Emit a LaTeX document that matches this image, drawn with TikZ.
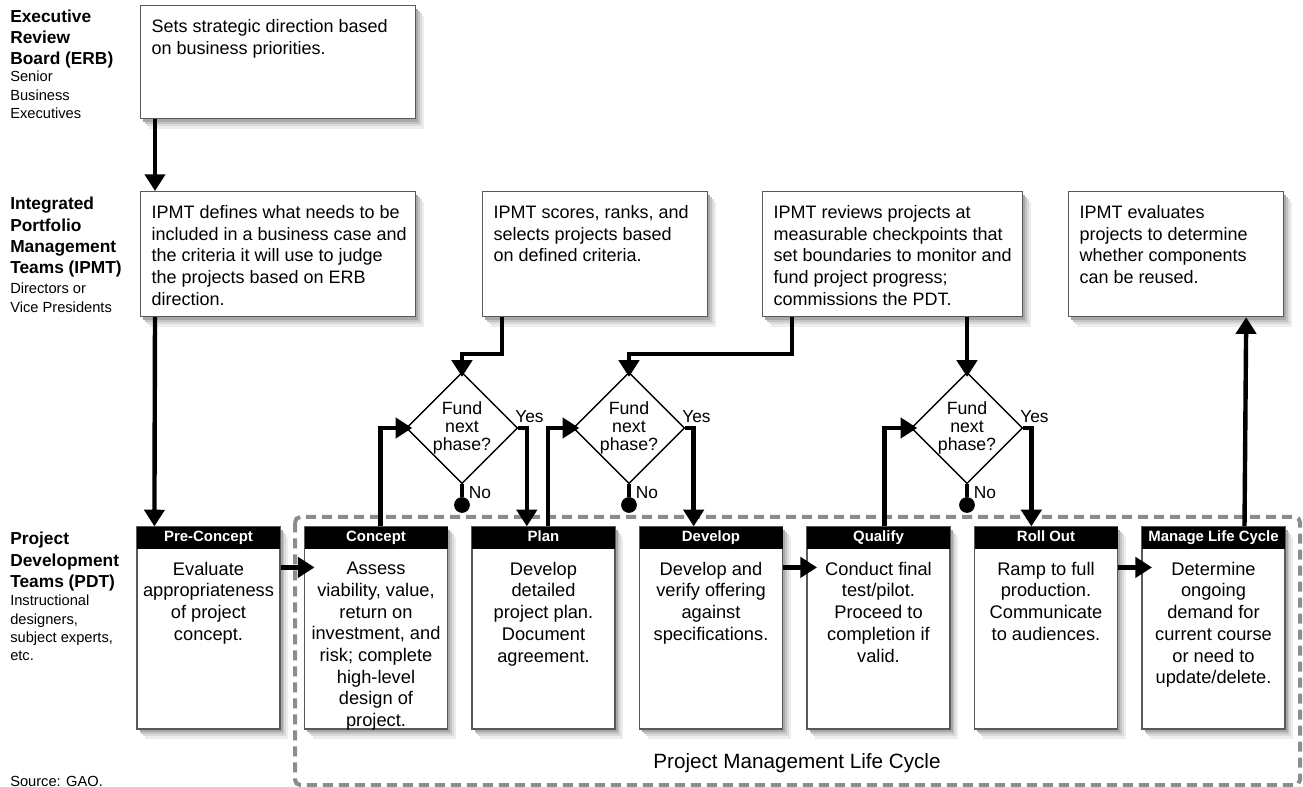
\documentclass[tikz,border=0pt]{standalone}
\usepackage{fontspec}
\setmainfont{Liberation Sans}
\usepackage{tikz}
\usetikzlibrary{arrows.meta}
\usetikzlibrary{positioning}
\usetikzlibrary{shapes.geometric}
\definecolor{BoxLine}{rgb}{.35,.35,.35}
\definecolor{FrameGray}{rgb}{.55,.55,.55}
\definecolor{ShadeA}{rgb}{.93,.93,.93}
\definecolor{ShadeB}{rgb}{.86,.86,.86}
\definecolor{ShadeC}{rgb}{.77,.77,.77}
\definecolor{ShadeD}{rgb}{.66,.66,.66}

\begin{document}
\begin{tikzpicture}[
  x=0.75pt, y=-0.75pt,
  node distance=125.625pt,
  on grid,
  every node/.style={inner sep=0pt},
  softshadow/.style={
    preaction={fill=ShadeA, transform canvas={shift={(6pt,-7.5pt)}}},
    preaction={fill=ShadeB, transform canvas={shift={(4.5pt,-5.5pt)}}},
    preaction={fill=ShadeC, transform canvas={shift={(3.2pt,-3.8pt)}}},
    preaction={fill=ShadeD, transform canvas={shift={(2pt,-2.2pt)}}}},
  flow/.style={line width=3.3pt, -{Triangle[width=15pt,length=12.5pt]}},
  plainflow/.style={line width=3.3pt},
  board/.style={softshadow, draw=BoxLine, line width=0.9pt, fill=white, anchor=north west, minimum height=93.75pt},
  boardtext/.style={anchor=north west, xshift=8.5pt, yshift=-10.5pt, align=left, font=\fontsize{13.5}{16.3}\selectfont},
  phase/.style={softshadow, draw=BoxLine, line width=0.9pt, fill=white, minimum width=107.25pt, minimum height=151.5pt},
  phasehead/.style={anchor=north, fill=black, text=white, minimum width=107.25pt, minimum height=16.5pt,
    text height=8.2pt, text depth=2.3pt, font=\bfseries\fontsize{11.2}{12}\selectfont},
  phasetext/.style={anchor=north, yshift=-26.5pt, align=center, font=\fontsize{13.7}{16.3}\selectfont},
  decision/.style={diamond, draw, line width=1.1pt, aspect=1, minimum size=78pt, align=center, font=\fontsize{13.3}{13.75}\selectfont},
  stopdot/.style={circle, fill=black, minimum size=11.8pt},
  yesno/.style={font=\fontsize{13}{15}\selectfont},
  teamtitle/.style={anchor=north west, align=left, font=\bfseries\fontsize{13}{16}\selectfont},
  teamsub/.style={anchor=north west, align=left, font=\fontsize{11}{13.75}\selectfont},
  lifeframe/.style={draw=FrameGray, line width=3pt, dash pattern=on 7.5pt off 4.5pt, rounded corners=4pt},
  ]
\useasboundingbox (0,0) rectangle (1303,787);

% life cycle frame
\draw [lifeframe] (295,517) rectangle (1300,785);
\node [font=\fontsize{15.5}{18}\selectfont] (lifecycle) at (797,763) {Project Management Life Cycle};
\node [anchor=base west, font=\fontsize{11}{13}\selectfont] (source) at (10,786) {Source: GAO.};

% team names
\node [teamtitle] (erbtitle) at (10,9.5) {Executive\\Review\\Board (ERB)};
\node [teamsub] (erbsub) at (10,71) {Senior\\Business\\Executives};
\node [teamtitle] (ipmttitle) at (10,197) {Integrated\\Portfolio\\Management\\Teams (IPMT)};
\node [teamsub] (ipmtsub) at (10,283) {Directors or\\Vice Presidents};
\node [teamtitle] (pdttitle) at (10,532) {Project\\Development\\Teams (PDT)};
\node [teamsub] (pdtsub) at (10,595) {Instructional\\designers,\\subject experts,\\etc.};

% boards
\node [board, minimum width=206.25pt, minimum height=84.75pt,
  label={[boardtext]north west:{Sets strategic direction based\\on business priorities.}}] (erb) at (140,5) {};
\node [board, minimum width=206.25pt,
  label={[boardtext]north west:{IPMT defines what needs to be\\included in a business case and\\the criteria it will use to judge\\the projects based on ERB\\direction.}}] (ipmt1) at (140,191) {};
\node [board, minimum width=168.75pt,
  label={[boardtext]north west:{IPMT scores, ranks, and\\selects projects based\\on defined criteria.}}] (ipmt2) at (482,191) {};
\node [board, minimum width=195pt,
  label={[boardtext]north west:{IPMT reviews projects at\\measurable checkpoints that\\set boundaries to monitor and\\fund project progress;\\commissions the PDT.}}] (ipmt3) at (762,191) {};
\node [board, minimum width=161.25pt,
  label={[boardtext]north west:{IPMT evaluates\\projects to determine\\whether components\\can be reused.}}] (ipmt4) at (1068,191) {};

% phases
\node [phase, label={[phasehead]north:Pre-Concept},
  label={[phasetext]north:{Evaluate\\appropriateness\\of project\\concept.}}] (pre) at (208.5,628) {};
\node [phase, right=of pre, label={[phasehead]north:Concept},
  label={[phasetext]north:{Assess\\viability, value,\\return on\\investment, and\\risk; complete\\high-level\\design of\\project.}}] (concept) {};
\node [phase, right=of concept, label={[phasehead]north:Plan},
  label={[phasetext]north:{Develop\\detailed\\project plan.\\Document\\agreement.}}] (plan) {};
\node [phase, right=of plan, label={[phasehead]north:Develop},
  label={[phasetext]north:{Develop and\\verify offering\\against\\specifications.}}] (develop) {};
\node [phase, right=of develop, label={[phasehead]north:Qualify},
  label={[phasetext]north:{Conduct final\\test/pilot.\\Proceed to\\completion if\\valid.}}] (qualify) {};
\node [phase, right=of qualify, label={[phasehead]north:Roll Out},
  label={[phasetext]north:{Ramp to full\\production.\\Communicate\\to audiences.}}] (rollout) {};
\node [phase, right=of rollout, label={[phasehead]north:Manage Life Cycle},
  label={[phasetext]north:{Determine\\ongoing\\demand for\\current course\\or need to\\update/delete.}}] (manage) {};

% decisions
\node [decision] (d1) at (462,428) {Fund\\next\\phase?};
\node [decision] (d2) at (629,428) {Fund\\next\\phase?};
\node [decision] (d3) at (967,428) {Fund\\next\\phase?};
\node [stopdot, below=57.75pt of d1] (d1no) {};
\node [stopdot, below=57.75pt of d2] (d2no) {};
\node [stopdot, below=57.75pt of d3] (d3no) {};

% connectors
\draw [flow] ([xshift=11.25pt]erb.south west) -- ([xshift=11.25pt]ipmt1.north west);
\draw [flow] ([xshift=11.25pt]ipmt1.south west) -- ([xshift=13.5pt]pre.north west);
\draw [flow, shorten >=-4pt] ([xshift=15pt]ipmt2.south west) -- ++(0,37) -| (d1.north);
\draw [flow, shorten >=-4pt] ([xshift=22.5pt]ipmt3.south west) -- ++(0,37) -| (d2.north);
\draw [flow, shorten >=-4pt] (ipmt3.south -| d3.north) -- (d3.north);

\draw [flow, shorten >=-5pt] ([xshift=3.5pt]concept.north) |- (d1.west);
\draw [flow, shorten >=-5pt] ([xshift=3.5pt]plan.north) |- (d2.west);
\draw [flow, shorten >=-5pt] ([xshift=4.5pt]qualify.north) |- (d3.west);

\draw [flow] (d1.east) -| node [yesno, pos=0, anchor=base west, xshift=-4pt, yshift=4pt] {Yes} ([xshift=-12.5pt]plan.north);
\draw [flow] (d2.east) -| node [yesno, pos=0, anchor=base west, xshift=-4pt, yshift=4pt] {Yes} ([xshift=-13pt]develop.north);
\draw [flow] (d3.east) -| node [yesno, pos=0, anchor=base west, xshift=-4pt, yshift=4pt] {Yes} ([xshift=-11pt]rollout.north);

\draw [plainflow] (d1.south) -- node [yesno, pos=0, anchor=base west, xshift=3.5pt, yshift=-10.5pt] {No} (d1no);
\draw [plainflow] (d2.south) -- node [yesno, pos=0, anchor=base west, xshift=3.5pt, yshift=-10.5pt] {No} (d2no);
\draw [plainflow] (d3.south) -- node [yesno, pos=0, anchor=base west, xshift=3.5pt, yshift=-10.5pt] {No} (d3no);

\draw [flow, shorten >=-8pt] ([yshift=-30.75pt]pre.north east) -- ([yshift=-30.75pt]concept.north west);
\draw [flow, shorten >=-8pt] ([yshift=-30.75pt]develop.north east) -- ([yshift=-30.75pt]qualify.north west);
\draw [flow, shorten >=-8pt] ([yshift=-30.75pt]rollout.north east) -- ([yshift=-30.75pt]manage.north west);

\draw [flow] ([xshift=23.25pt]manage.north) -- ([xshift=-28.5pt]ipmt4.south east);
\end{tikzpicture}
\end{document}
